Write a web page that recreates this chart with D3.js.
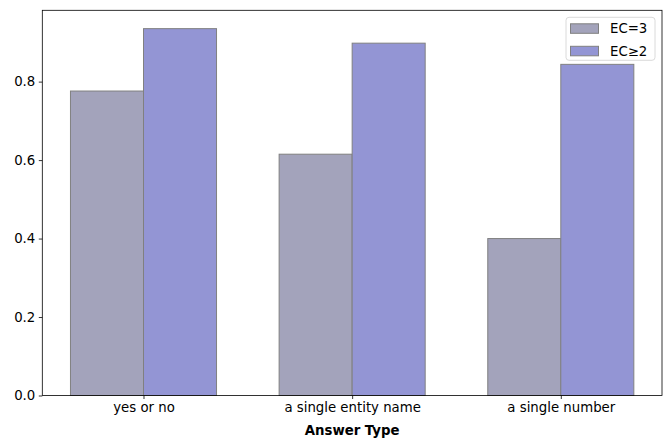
<!DOCTYPE html>
<html>
<head>
<meta charset="utf-8">
<script src="https://cdn.jsdelivr.net/npm/d3@7"></script>
<style>
  body { margin: 0; background: #fff; }
  text { font-family: "DejaVu Sans", sans-serif; }
</style>
</head>
<body>
<script>
var categories = ["yes or no", "a single entity name", "a single number"];
var seriesNames = ["EC=3", "EC\u22652"];
var ec3 = [0.776, 0.615, 0.400];
var ec2 = [0.935, 0.898, 0.844];
var yTicks = [0.0, 0.2, 0.4, 0.6, 0.8];
var colors = ["#a3a3bb", "#9395d4"];

var W = 671, H = 448;
var margin = { top: 10.3, right: 9, bottom: 52.5, left: 42.3 };
var width = W - margin.left - margin.right;
var height = H - margin.top - margin.bottom;
var barW = 0.35;

var svg = d3.select("body").append("svg")
    .attr("width", W)
    .attr("height", H);

var g = svg.append("g")
    .attr("transform", `translate(${margin.left}, ${margin.top})`);

var x = d3.scaleLinear()
    .domain([-barW - 0.135, categories.length - 1 + barW + 0.135])
    .range([0, width]);

var yMax = d3.max(ec3.concat(ec2)) * 1.05;
var y = d3.scaleLinear()
    .domain([0, yMax])
    .range([height, 0]);

var series = [ec3, ec2];
series.forEach((vals, s) => {
    g.selectAll(".bar" + s)
        .data(vals)
        .enter()
        .append("rect")
        .attr("x", (d, i) => x(i + (s === 0 ? -barW : 0)))
        .attr("y", (d) => y(d))
        .attr("width", x(barW) - x(0))
        .attr("height", (d) => height - y(d))
        .attr("fill", colors[s])
        .attr("stroke", "#808080")
        .attr("stroke-width", 1);
});

// axes
var xAxis = d3.axisBottom(x)
    .tickValues(d3.range(categories.length))
    .tickFormat((d) => categories[d])
    .tickSize(3.5)
    .tickPadding(3.5);
var yAxis = d3.axisLeft(y)
    .tickValues(yTicks)
    .tickFormat(d3.format(".1f"))
    .tickSize(3.5)
    .tickPadding(3.5);

var gx = g.append("g")
    .attr("transform", `translate(0, ${height})`)
    .call(xAxis);
var gy = g.append("g").call(yAxis);

[gx, gy].forEach((ax) => {
    ax.select(".domain").remove();
    ax.selectAll("text").attr("font-size", "13.3px").attr("fill", "#000")
        .style("font-family", "DejaVu Sans, sans-serif");
    ax.selectAll("line").attr("stroke", "#000").attr("stroke-width", 0.8);
});

// frame
g.append("rect")
    .attr("width", width)
    .attr("height", height)
    .attr("fill", "none")
    .attr("stroke", "#000")
    .attr("stroke-width", 0.8);

// x label
g.append("text")
    .attr("x", width / 2)
    .attr("y", height + 40)
    .attr("text-anchor", "middle")
    .attr("font-size", "13.3px")
    .attr("font-weight", "bold")
    .text("Answer Type");

// legend
var lg = g.append("g")
    .attr("transform", `translate(${width - 7 - 89}, 7)`);
lg.append("rect")
    .attr("width", 89)
    .attr("height", 43)
    .attr("rx", 3)
    .attr("fill", "#fff")
    .attr("fill-opacity", 0.8)
    .attr("stroke", "#d0d0d0")
    .attr("stroke-width", 0.8);
seriesNames.forEach((name, i) => {
    lg.append("rect")
        .attr("x", 4.5)
        .attr("y", 6.5 + i * 22.5)
        .attr("width", 28)
        .attr("height", 9.5)
        .attr("fill", colors[i])
        .attr("stroke", "#808080")
        .attr("stroke-width", 1);
    lg.append("text")
        .attr("x", 44)
        .attr("y", 11.5 + i * 22.5)
        .attr("dy", "0.35em")
        .attr("font-size", "13.3px")
        .text(name);
});
</script>
</body>
</html>
